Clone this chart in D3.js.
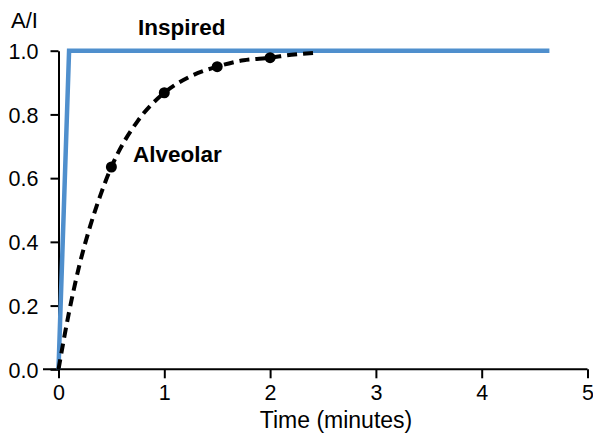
<!DOCTYPE html>
<html>
<head>
<meta charset="utf-8">
<script src="https://cdn.jsdelivr.net/npm/d3@7"></script>
<style>
  html, body { margin: 0; padding: 0; background: #fff; }
  text { font-family: "Liberation Sans", Arial, Helvetica, sans-serif; fill: #000; }
</style>
</head>
<body>
<svg id="chart" width="593" height="436"></svg>
<script>
// Data
const inspiredTime = [0, 0.1, 4.64];
const inspiredValue = [0, 1.0, 1.0];

const alveolarTime  = [0, 0.1, 0.2, 0.3, 0.4, 0.5, 0.75, 1.0, 1.25, 1.5, 1.75, 2.0, 2.2, 2.41];
const alveolarValue = [0, 0.18, 0.33, 0.45, 0.55, 0.635, 0.78, 0.868, 0.92, 0.95, 0.97, 0.978, 0.987, 0.993];

const markerTime  = [0.5, 1.0, 1.5, 2.0];
const markerValue = [0.635, 0.868, 0.95, 0.978];

const xTicks = [0, 1, 2, 3, 4, 5];
const yTicks = [0, 0.2, 0.4, 0.6, 0.8, 1.0];

const svg = d3.select("#chart");
const x = d3.scaleLinear().domain([0, 5]).range([58.5, 587.5]);
const y = d3.scaleLinear().domain([0, 1]).range([369.3, 50.7]);

// X axis
const xAxis = svg.append("g").attr("transform", `translate(0,${y(0)})`)
  .call(d3.axisBottom(x).tickValues(xTicks).tickFormat(d3.format("d")).tickSize(9).tickSizeOuter(0));
xAxis.select(".domain").remove();
xAxis.append("line").attr("x1", 43).attr("x2", x(5)).attr("y1", 0).attr("y2", 0)
  .attr("stroke", "#000").attr("stroke-width", 2);
xAxis.selectAll(".tick line").attr("stroke-width", 2);
xAxis.selectAll(".tick text").attr("y", 31).attr("dy", 0)
  .style("font-size", "21.5px").style("font-family", "Liberation Sans, Arial, sans-serif").attr("fill", "#000");

// Y axis
const yAxis = svg.append("g").attr("transform", `translate(${x(0)},0)`)
  .call(d3.axisLeft(y).tickValues(yTicks).tickFormat(d3.format(".1f")).tickSize(8).tickPadding(12).tickSizeOuter(0));
yAxis.select(".domain").attr("stroke-width", 2);
yAxis.selectAll(".tick line").attr("stroke-width", 2);
yAxis.selectAll(".tick text").attr("dy", "0.36em")
  .style("font-size", "21.5px").style("font-family", "Liberation Sans, Arial, sans-serif").attr("fill", "#000");

// Inspired line
const inspired = inspiredTime.map((t, i) => [t, inspiredValue[i]]);
svg.append("path").datum(inspired)
  .attr("fill", "none").attr("stroke", "#4f8fcd").attr("stroke-width", 4.5)
  .attr("stroke-linejoin", "miter")
  .attr("d", d3.line().x(d => x(d[0])).y(d => y(d[1])));

// Alveolar dashed curve
const alveolar = alveolarTime.map((t, i) => [t, alveolarValue[i]]);
svg.append("path").datum(alveolar)
  .attr("fill", "none").attr("stroke", "#000").attr("stroke-width", 4)
  .attr("stroke-dasharray", "10,6")
  .attr("d", d3.line().curve(d3.curveMonotoneX).x(d => x(d[0])).y(d => y(d[1])));

// Markers
svg.selectAll("circle.m").data(markerTime.map((t, i) => [t, markerValue[i]]))
  .enter().append("circle").attr("class", "m")
  .attr("cx", d => x(d[0])).attr("cy", d => y(d[1])).attr("r", 5.5).attr("fill", "#000");

// Labels
svg.append("text").attr("x", 11).attr("y", 28).style("font-size", "22px").text("A/I");
svg.append("text").attr("x", 138).attr("y", 35).style("font-size", "22.5px").style("font-weight", "bold").text("Inspired");
svg.append("text").attr("x", 133).attr("y", 162).style("font-size", "22.5px").style("font-weight", "bold").text("Alveolar");
svg.append("text").attr("x", 336).attr("y", 428).attr("text-anchor", "middle").style("font-size", "23px").text("Time (minutes)");
</script>
</body>
</html>
